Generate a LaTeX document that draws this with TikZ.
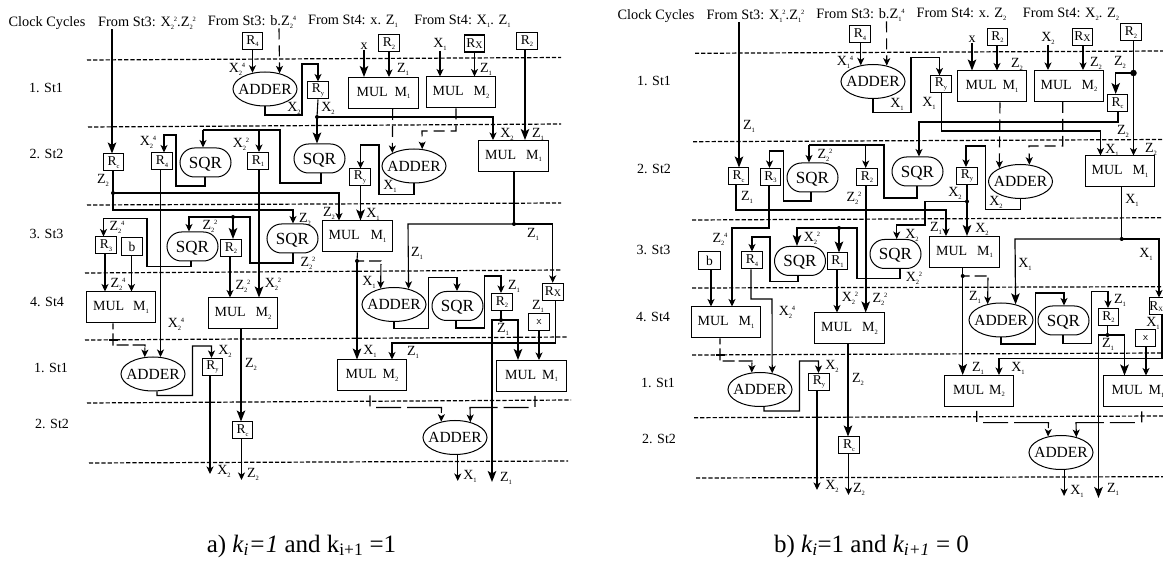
\documentclass[tikz,border=0pt]{standalone}
\usepackage{fontspec}
\setmainfont{Liberation Serif}
\usetikzlibrary{arrows.meta,shapes.geometric,shapes.misc}
\newcommand\Tiny[1]{{\fontsize{6.5}{6.5}\selectfont #1}}
\newcommand\Sb[2]{#1\raisebox{-2.5pt}{\Tiny{#2}}}
\newcommand\SbSp[3]{#1\rlap{\raisebox{-2.5pt}{\Tiny{#2}}}\kern3pt\raisebox{5pt}{\Tiny{#3}}}
\newcommand\Pt[2]{(#1 -| #2,0)}
\newcount\lblcnt
\newcommand\Lbl[3]{\global\advance\lblcnt by 1 \node[lbl] (lab\the\lblcnt) at (#1,{#2+4.8}) {#3};}
\newcommand\Mul[3]{MUL\hspace{#1pt}\Sb{M}{#2}}
\newcommand\Fit[1]{\makebox[0pt]{\raisebox{-0.33em}[0pt][0pt]{#1}}}
\newcommand\Adr{\Fit{ADDER}}
\newcommand\Sq{\Fit{SQR}}
\tikzset{
 lbl/.style={inner sep=0pt,anchor=base,font=\fontsize{14}{14}\selectfont},
 toplbl/.style={inner sep=0pt,anchor=base,font=\fontsize{14.3}{14.3}\selectfont},
 reg/.style={draw,line width=1pt,inner sep=0pt,minimum width=20.5pt,minimum height=17pt,font=\fontsize{13.5}{13.5}\selectfont},
 regx/.style={reg,line width=1.4pt},
 bbox/.style={reg,minimum width=21.5pt,minimum height=18.5pt},
 mulbox/.style={draw,line width=1pt,inner sep=0pt,minimum width=69.5pt,minimum height=31pt,font=\fontsize{14}{14}\selectfont},
 addr/.style={draw,ellipse,line width=1pt,inner sep=0pt,minimum width=64pt,minimum height=34pt,font=\fontsize{15.5}{15.5}\selectfont},
 sqr/.style={draw,rounded rectangle,line width=1pt,inner sep=0pt,minimum width=51pt,minimum height=29pt,font=\fontsize{17}{17}\selectfont},
 jdot/.style={circle,fill,inner sep=0pt,minimum size=4pt},
 ldot/.style={circle,fill,inner sep=0pt,minimum size=6.5pt},
 plain/.style={line width=1.1pt},
 wire/.style={line width=1.1pt,-{Stealth[length=7.5pt,width=7pt,inset=2pt]}},
 bigw/.style={line width=1.6pt,-{Stealth[length=11pt,width=8.5pt,inset=2.5pt]}},
 dline/.style={line width=1.2pt,dash pattern=on 4.2pt off 2pt},
 dwire/.style={line width=1.1pt,dash pattern=on 11pt off 6pt,-{Stealth[length=7.5pt,width=7pt,inset=2pt]}},
 lwire/.style={line width=1.1pt,dash pattern=on 0pt off 4pt on 11pt off 7pt on 25pt off 6pt on 40pt off 0pt,-{Stealth[length=7.5pt,width=7pt,inset=2pt]}},
}
\begin{document}
\begin{tikzpicture}[x=1pt,y=-1pt]
\useasboundingbox (0,0) rectangle (1163,561);
% ============ dashed clock lines
\draw[dline] (87,60) -- (561,57.5);
\draw[dline] (88,127) -- (561,124);
\draw[dline] (87,205) -- (561,203);
\draw[dline] (85,273) -- (562,270);
\draw[dline] (85,340) -- (568,337);
\draw[dline] (87,403) -- (571,400);
\draw[dline] (89,463) -- (568,461);
\draw[dline] (695,53.3) -- (1163,51);
\draw[dline] (693,141.7) -- (1163,139.5);
\draw[dline] (692,220) -- (1163,217.7);
\draw[dline] (692,288) -- (1163,286.7);
\draw[dline] (692,355) -- (1163,353);
\draw[dline] (694,417.7) -- (1163,416);
\draw[dline] (696,478) -- (1163,476.7);
% ============ PANEL A
\node[toplbl] (acc) at (47,26.8) {Clock Cycles};
\node[toplbl] (afr1) at (147,26.8) {From St3: \SbSp{X}{2}{2}.\SbSp{Z}{2}{2}};
\node[toplbl] (afr2) at (252,25.8) {From St3: b.\SbSp{Z}{2}{4}};
\node[toplbl] (afr3) at (353,24.8) {From St4: x. \Sb{Z}{1}};
\node[toplbl] (afr4) at (462.5,24.8) {From St4: \Sb{X}{1}. \Sb{Z}{1}};
\Lbl{46}{88}{1. St1} \Lbl{46.5}{154}{2. St2} \Lbl{46.5}{234}{3. St3} \Lbl{47}{302}{4. St4}
\Lbl{51}{368}{1. St1} \Lbl{52}{424}{2. St2}
\node[reg] (ar4t) at (252.5,41) {\Sb{R}{4}};
\node[addr] (aad1) at (265,89) {\Adr};
\node[reg] (aryt) at (318,90.5) {\Sb{R}{y}};
\node[sqr] (asq2) at (319.5,158.5) {\Sq};
\node[reg] (ar1) at (258,161) {\Sb{R}{1}};
\node[sqr] (asq1) at (205.5,162.5) {\Sq};
\node[reg] (ar4m) at (162,161.5) {\Sb{R}{4}};
\node[reg] (arc) at (113.5,162.5) {\Sb{R}{c}};
\node[sqr] (asq3) at (292.5,238.5) {\Sq};
\node[sqr] (asq4) at (192.5,246.5) {\Sq};
\node[reg] (ar3) at (106,245.5) {\Sb{R}{3}};
\node[bbox] (ab) at (132,246.5) {b};
\node[reg] (ar2m) at (231,248) {\Sb{R}{2}};
\node[mulbox] (am1l) at (121,307.5) {\Mul{9}{1}{}};
\node[addr] (aad3) at (153,374) {\Adr};
\node[reg] (aryb) at (212.5,367) {\Sb{R}{y}};
\node[mulbox] (am2l) at (243,313.5) {\Mul{10}{2}{}};
\node[reg] (arcb) at (242.5,430.5) {\Sb{R}{c}};
\node[mulbox] (amt1) at (383.5,93) {\Mul{7}{1}{}};
\node[reg] (ar2a) at (389,43.5) {\Sb{R}{2}};
\node[mulbox] (amt2) at (461,92.5) {\Mul{10}{2}{}};
\node[regx] (arxt) at (474.5,43.5) {R\raisebox{-1pt}{\fontsize{10}{10}\selectfont X}};
\node[reg] (ar2b) at (527,41) {\Sb{R}{2}};
\node[mulbox] (amr) at (513.5,156) {\Mul{10}{1}{}};
\node[addr] (aad2) at (414,166) {\Adr};
\node[reg] (arym) at (360,177.5) {\Sb{R}{y}};
\node[mulbox] (amm) at (357.5,236.5) {\Mul{11}{1}{}};
\node[addr] (aad4) at (394,304.5) {\Adr};
\node[sqr] (asq5) at (457.5,306) {\Sq};
\node[reg] (ar2c) at (502,302) {\Sb{R}{2}};
\node[reg] (ax) at (539,322.5) {\sffamily\fontsize{11}{11}\selectfont x};
\node[regx] (arxb) at (553,292) {R\raisebox{-1pt}{\fontsize{10}{10}\selectfont X}};
\node[mulbox] (am2b) at (372,375.5) {\Mul{6}{2}{}};
\node[mulbox] (am1b) at (531.5,376) {\Mul{6}{1}{}};
\node[addr] (aad5) at (455,437.5) {\Adr};
\node[jdot] (ajz) at (113,193) {};
\node[jdot] (ajx) at (317,117) {};
\node[jdot] (ajs) at (233,217) {};
\node[jdot] (ajm) at (357,261) {};
\node[jdot] (ajr) at (514,224) {};
\node[jdot] (ajc) at (501,320) {};
\node[lbl] (axl) at (364,50) {x};
\node[lbl] (ax1l) at (440,48) {\Sb{X}{1}};
% connectors A
\draw[bigw] \Pt{afr1.south}{112} -- \Pt{arc.north}{112};
\draw[dwire] \Pt{afr2.south}{279} -- (aad1.47.5);
\draw[wire] (ar4t.south) -- (ar4t.south |- aad1.127);
\draw[wire] (aad1.south) -- (265,115) -- (302,115) -- (302,64) -- (318,64) -- (aryt.north);
\draw[plain] (aryt.south) -- (ajx.center);
\draw[bigw] (ajx.center) -- \Pt{asq2.north}{317};
\draw[wire] (ajx.center) -- (493,117) -- \Pt{amr.north}{493};
\draw[plain] \Pt{asq2.south}{321} -- (321,183) -- (280,183) -- (280,130) -- (203,130);
\draw[wire] (259,130) -- \Pt{ar1.north}{259};
\draw[wire] (203,130) -- \Pt{asq1.north}{203};
\draw[bigw] \Pt{ar1.south}{259} -- \Pt{am2l.north}{259};
\draw[wire] \Pt{asq1.south}{205} -- (205,186) -- (176,186) -- (176,135) -- (164,135) -- \Pt{ar4m.north}{164};
\draw[wire] \Pt{ar4m.south}{160.5} -- (160.5,357);
\draw[plain] \Pt{arc.south}{113} -- (ajz.center);
\draw[wire] (ajz.center) -- (113,210) -- (293,210) -- \Pt{asq3.north}{293};
\draw[wire] (ajz.center) -- (339,193) -- \Pt{amm.north}{339};
\draw[plain] \Pt{asq3.south}{293} -- (293,263) -- (250,263) -- (250,217) -- (ajs.center);
\draw[wire] (ajs.center) -- (189,217) -- \Pt{asq4.north}{189};
\draw[bigw] (ajs.center) -- \Pt{ar2m.north}{233};
\draw[wire] \Pt{asq4.south}{191} -- (191,266.5) -- (147,266.5) -- (147,218.5) -- (103.5,218.5) -- \Pt{ar3.north}{103.5};
\draw[wire] \Pt{ar3.south}{105} -- \Pt{am1l.north}{105};
\draw[wire] \Pt{ab.south}{131.5} -- \Pt{am1l.north}{131.5};
\draw[wire] \Pt{ar2m.south}{230} -- \Pt{am2l.north}{230};
\draw[dwire,dash pattern=on 6pt off 4pt on 12pt off 3pt on 12pt off 4pt on 14pt off 1pt on 14pt] \Pt{am1l.south}{113} -- (113,345) -- (145,345) -- (aad3.116);
\draw[line width=1.1pt] (108.5,340) -- (117.5,340);
\draw[wire] (aad3.-77) -- (157,395.5) -- (192.5,395.5) -- (192.5,346) -- (211.5,346) -- \Pt{aryb.north}{211.5};
\draw[wire] \Pt{aryb.south}{210} -- (210,474);
\draw[bigw] \Pt{am2l.south}{241} -- \Pt{arcb.north}{241};
\draw[wire] \Pt{arcb.south}{241.5} -- (241.5,480);
\draw[bigw] \Pt{axl.south}{364} -- \Pt{amt1.north}{364};
\draw[wire] \Pt{ar2a.south}{389} -- \Pt{amt1.north}{389};
\draw[wire] \Pt{ax1l.south}{440} -- \Pt{amt2.north}{440};
\draw[wire] \Pt{arxt.south}{474.5} -- \Pt{amt2.north}{474.5};
\draw[bigw,line width=1.3pt] \Pt{ar2b.south}{525} -- \Pt{amr.north}{525};
\draw[dwire] \Pt{amt1.south}{392.7} -- (aad2.149);
\draw[dwire] \Pt{amt2.south}{456} -- (456,131) -- (422,131) -- (aad2.64);
\draw[wire] (aad2.south) -- (414,194.5) -- (379,194.5) -- (379,145) -- (360.5,145) -- \Pt{arym.north}{360.5};
\draw[bigw,line width=1.2pt] \Pt{arym.south}{360.5} -- \Pt{amm.north}{360.5};
\draw[plain] (amm.south) -- (ajm.center);
\draw[dwire,dash pattern=on 7pt off 5pt on 12pt off 3pt on 30pt] (ajm.center) -- (381,261) -- (aad4.130);
\draw[bigw,line width=1.2pt] (ajm.center) -- \Pt{am2b.north}{357};
\draw[line width=1.5pt] \Pt{amr.south}{514} -- (ajr.center);
\draw[wire] (ajr.center) -- (408,224) -- (aad4.47.5);
\draw[wire] (ajr.center) -- (552.7,224) -- \Pt{arxb.north}{552.7};
\draw[wire] (aad4.south) -- (394,328.5) -- (428.5,328.5) -- (428.5,277.5) -- (457,277.5) -- \Pt{asq5.north}{457};
\draw[wire] \Pt{asq5.south}{456} -- (456,328) -- (484.5,328) -- (484.5,276) -- (501,276) -- \Pt{ar2c.north}{501};
\draw[plain] \Pt{ar2c.south}{501} -- (ajc.center);
\draw[bigw] (ajc.center) -- (492,320) -- (492,482);
\draw[bigw] (ajc.center) -- (518,320) -- \Pt{am1b.north}{518};
\draw[wire] \Pt{ax.south}{539} -- \Pt{am1b.north}{539};
\draw[wire] \Pt{arxb.south}{555.5} -- (555.5,343) -- (392,343) -- \Pt{am2b.north}{392};
\draw[lwire] \Pt{am2b.south}{370} -- (370,407.5) -- (441.5,407.5) -- (aad5.131);
\draw[lwire] \Pt{am1b.south}{535} -- (535,407.5) -- (470,407.5) -- (aad5.45);
\draw[wire] (aad5.-81) -- (aad5.-81 |- 0,481);
% labels A
\Lbl{237}{68}{\SbSp{X}{2}{4}} \Lbl{294}{107}{\Sb{X}{2}} \Lbl{328}{107}{\Sb{X}{2}} \Lbl{507}{133}{\Sb{X}{2}}
\Lbl{241}{143}{\SbSp{X}{2}{2}} \Lbl{148}{141}{\SbSp{X}{2}{4}} \Lbl{103}{179}{\Sb{Z}{2}}
\Lbl{329}{212}{\Sb{Z}{2}} \Lbl{305}{218}{\Sb{Z}{2}} \Lbl{210}{225}{\SbSp{Z}{2}{2}} \Lbl{308}{262}{\SbSp{Z}{2}{2}}
\Lbl{117}{226}{\SbSp{Z}{2}{4}} \Lbl{118}{283}{\SbSp{Z}{2}{4}} \Lbl{243}{285}{\SbSp{Z}{2}{2}} \Lbl{273}{283}{\SbSp{X}{2}{2}}
\Lbl{176}{323}{\SbSp{X}{2}{4}} \Lbl{225}{350}{\Sb{X}{2}} \Lbl{224}{470}{\Sb{X}{2}} \Lbl{251}{363}{\Sb{Z}{2}} \Lbl{253}{473}{\Sb{Z}{2}}
\Lbl{403}{68}{\Sb{Z}{1}} \Lbl{486}{68}{\Sb{Z}{1}} \Lbl{538}{133}{\Sb{Z}{1}} \Lbl{390}{185}{\Sb{X}{1}} \Lbl{373}{213}{\Sb{X}{1}}
\Lbl{369}{281}{\Sb{X}{1}} \Lbl{370}{350}{\Sb{X}{1}} \Lbl{533}{233}{\Sb{Z}{1}} \Lbl{417}{252}{\Sb{Z}{1}} \Lbl{514}{285}{\Sb{Z}{1}}
\Lbl{503}{328}{\Sb{Z}{1}} \Lbl{506}{477}{\Sb{Z}{1}} \Lbl{538}{305}{\Sb{Z}{1}} \Lbl{413}{351}{\Sb{Z}{1}} \Lbl{470}{475}{\Sb{X}{1}}
\node[inner sep=0pt,font=\fontsize{25}{25}\selectfont] (acap) at (301.5,546) {a) \textit{k\textsubscript{i}=1} and k\textsubscript{i+1} =1};
% ============ PANEL B
\node[toplbl] (bcc) at (656,19.8) {Clock Cycles};
\node[toplbl] (bfr1) at (755.5,19.8) {From St3: \SbSp{X}{1}{2}.\SbSp{Z}{1}{2}};
\node[toplbl] (bfr2) at (860.5,18.8) {From St3: b.\SbSp{Z}{1}{4}};
\node[toplbl] (bfr3) at (961.5,17.8) {From St4: x. \Sb{Z}{2}};
\node[toplbl] (bfr4) at (1071,17.8) {From St4: \Sb{X}{2}. \Sb{Z}{2}};
\Lbl{654}{81}{1. St1} \Lbl{654}{169}{2. St2} \Lbl{653.5}{250}{3. St3} \Lbl{653}{317}{4. St4}
\Lbl{658}{383}{1. St1} \Lbl{659}{439}{2. St2}
\node[reg] (brc) at (738.5,176.5) {\Sb{R}{c}};
\node[reg] (br3) at (770.5,177) {\Sb{R}{3}};
\node[sqr] (bsq1) at (812.5,177.5) {\Sq};
\node[reg] (br2m) at (867,177) {\Sb{R}{2}};
\node[sqr] (bsq2) at (917.5,171.5) {\Sq};
\node[reg] (brcr) at (1117.5,103) {\Sb{R}{c}};
\node[reg] (br2r) at (1131,32.5) {\Sb{R}{2}};
\node[mulbox] (bmr) at (1120,171.5) {\Mul{10}{1}{}};
\node[reg] (bryt) at (941,84.5) {\Sb{R}{y}};
\node[addr] (bad1) at (873,81.5) {\Adr};
\node[reg] (br4t) at (860,34.5) {\Sb{R}{4}};
\node[mulbox] (bmt1) at (992,86.5) {\Mul{6}{1}{}};
\node[reg] (br2a) at (997.5,37) {\Sb{R}{2}};
\node[mulbox] (bmt2) at (1069,86) {\Mul{10}{2}{}};
\node[regx] (brxt) at (1082.5,37) {R\raisebox{-1pt}{\fontsize{10}{10}\selectfont X}};
\node[addr] (bad2) at (1020.5,181.5) {\Adr};
\node[reg] (brym) at (967,176) {\Sb{R}{y}};
\node[mulbox] (bmm) at (964.5,252) {\Mul{10}{1}{}};
\node[sqr] (bsq3) at (895.5,254) {\Sq};
\node[sqr] (bsq4) at (800,261) {\Sq};
\node[reg] (br1) at (837.5,261.5) {\Sb{R}{1}};
\node[reg] (br4m) at (752,260.5) {\Sb{R}{4}};
\node[bbox] (bb) at (709.5,260.5) {b};
\node[mulbox] (bm1l) at (726,322.5) {\Mul{10}{1}{}};
\node[addr] (bad3) at (760,389.5) {\Adr};
\node[reg] (bryb) at (819,382) {\Sb{R}{y}};
\node[mulbox] (bm2l) at (849.5,328.5) {\Mul{10}{2}{}};
\node[reg] (brcb) at (849,445.5) {\Sb{R}{c}};
\node[reg] (brxb) at (1159.5,306.5) {};
\node[inner sep=0pt,font=\fontsize{13.5}{13.5}\selectfont] (brxbt) at (1156.3,306.5) {R\raisebox{-1pt}{\Tiny{X}}};
\node[addr] (bad4) at (1001,320) {\Adr};
\node[sqr] (bsq5) at (1063.5,320.5) {\Sq};
\node[reg] (br2c) at (1108.5,317) {\Sb{R}{2}};
\node[reg] (bx) at (1145.5,338) {\sffamily\fontsize{11}{11}\selectfont x};
\node[mulbox] (bm2b) at (979,391) {\Mul{5}{2}{}};
\node[mulbox] (bm1b) at (1138,391.5) {\Mul{6}{1}{}\hspace{6pt}};
\node[addr] (bad5) at (1061,452.5) {\Adr};
\node[ldot] (bjr) at (1133.5,73) {};
\node[jdot] (bjy) at (967,201.5) {};
\node[jdot] (bjs) at (839,228) {};
\node[jdot] (bjm) at (962.7,276) {};
\node[jdot] (bjb) at (1121.7,239) {};
\node[jdot] (bjc) at (1107.5,335) {};
\node[lbl] (bxl) at (972,43) {x};
\node[lbl] (bx2l) at (1048,42) {\Sb{X}{2}};
% connectors B
\draw[bigw] \Pt{bfr1.south}{739} -- \Pt{brc.north}{739};
\draw[wire] \Pt{brc.south}{736} -- (736,210) -- (946,210) -- \Pt{bmm.north}{946};
\draw[wire] \Pt{br3.south}{769} -- (769,228) -- (732,228) -- \Pt{bm1l.north}{732};
\draw[wire] \Pt{bsq1.south}{811} -- (811,201) -- (783.5,201) -- (783.5,151) -- (769.5,151) -- \Pt{br3.north}{769.5};
\draw[plain] \Pt{bsq2.south}{917} -- (917,198) -- (884,198) -- (884,145) -- (809,145);
\draw[wire] (809,145) -- \Pt{bsq1.north}{809};
\draw[wire] (865.7,145) -- \Pt{br2m.north}{865.7};
\draw[bigw] \Pt{br2m.south}{865.7} -- \Pt{bm2l.north}{865.7};
\draw[wire] \Pt{brcr.south}{1118} -- (1118,122) -- (919,122) -- \Pt{bsq2.north}{919};
\draw[bigw,line width=1.3pt] (bjr.center) -- (1115.7,73) -- \Pt{brcr.north}{1115.7};
\draw[plain] \Pt{br2r.south}{1133.5} -- (bjr.center);
\draw[wire,line width=1.3pt] (bjr.center) -- \Pt{bmr.north}{1133.5};
\draw[wire] \Pt{bryt.south}{941.5} -- (941.5,131) -- (1100.5,131) -- \Pt{bmr.north}{1100.5};
\draw[wire] (bad1.south) -- (873,112.5) -- (911,112.5) -- (911,57.5) -- (939.5,57.5) -- \Pt{bryt.north}{939.5};
\draw[wire] (br4t.south -| bad1.127) -- (bad1.127);
\draw[dwire] \Pt{bfr2.south}{886.5} -- (bad1.49);
\draw[bigw] \Pt{bxl.south}{972} -- \Pt{bmt1.north}{972};
\draw[wire] \Pt{br2a.south}{997} -- \Pt{bmt1.north}{997};
\draw[wire] \Pt{bx2l.south}{1048} -- \Pt{bmt2.north}{1048};
\draw[wire] \Pt{brxt.south}{1083} -- \Pt{bmt2.north}{1083};
\draw[dwire] \Pt{bmt1.south}{1000} -- (bad2.148);
\draw[dwire] \Pt{bmt2.south}{1062.7} -- (1062.7,146) -- (1029,146) -- (bad2.62);
\draw[wire] (bad2.south) -- (1020.5,209.5) -- (985.5,209.5) -- (985.5,146) -- (966,146) -- \Pt{brym.north}{966};
\draw[plain] \Pt{brym.south}{967} -- (bjy.center);
\draw[bigw] (bjy.center) -- \Pt{bmm.north}{967};
\draw[wire] (bjy.center) -- (925,201.5) -- (925,225) -- (896.7,225) -- \Pt{bsq3.north}{896.7};
\draw[plain] \Pt{bsq3.south}{900} -- (900,278.5) -- (857,278.5) -- (857,228) -- (bjs.center);
\draw[bigw,line width=1.2pt] (bjs.center) -- (797,228) -- \Pt{bsq4.north}{797};
\draw[bigw,line width=1.2pt] (bjs.center) -- \Pt{br1.north}{839};
\draw[wire] \Pt{br1.south}{837} -- \Pt{bm2l.north}{837};
\draw[wire] \Pt{bsq4.south}{798} -- (798,281.7) -- (770,281.7) -- (770,237) -- (752,237) -- (br4m.north);
\draw[wire] \Pt{br4m.south}{751} -- (751,299) -- (772,299) -- (bad3.53);
\draw[wire] \Pt{bb.south}{711} -- \Pt{bm1l.north}{711};
\draw[dwire,dash pattern=on 6pt off 4pt on 12pt off 3pt on 12pt off 4pt on 14pt off 1pt on 14pt] \Pt{bm1l.south}{720} -- (720,361) -- (752,361) -- (bad3.116);
\draw[line width=1.1pt] (715.5,355) -- (724.5,355);
\draw[wire] (bad3.-77) -- (764,411) -- (799.5,411) -- (799.5,361) -- (818.5,361) -- \Pt{bryb.north}{818.5};
\draw[wire] \Pt{bryb.south}{817} -- (817,490);
\draw[bigw] \Pt{bm2l.south}{848} -- \Pt{brcb.north}{848};
\draw[wire] \Pt{brcb.south}{848.5} -- (848.5,495);
\draw[line width=1.5pt] \Pt{bmr.south}{1121.7} -- (bjb.center);
\draw[bigw,line width=1.2pt] (bjb.center) -- (1015,239) -- (bad4.47.5);
\draw[wire] (bjb.center) -- (1159,239) -- \Pt{brxb.north}{1159};
\draw[plain] \Pt{bmm.south}{962.7} -- (bjm.center);
\draw[dwire,dash pattern=on 7pt off 5pt on 12pt off 3pt on 30pt] (bjm.center) -- (988,276) -- (bad4.130);
\draw[bigw,line width=1.2pt] (bjm.center) -- \Pt{bm2b.north}{962.7};
\draw[wire] \Pt{brxb.south}{1162} -- (1162,358.5) -- (999,358.5) -- \Pt{bm2b.north}{999};
\draw[wire] (bad4.south) -- (1001,344) -- (1035.5,344) -- (1035.5,293) -- (1064,293) -- \Pt{bsq5.north}{1064};
\draw[wire] \Pt{bsq5.south}{1063} -- (1063,343.5) -- (1091.5,343.5) -- (1091.5,291.5) -- (1108,291.5) -- \Pt{br2c.north}{1108};
\draw[plain] \Pt{br2c.south}{1107.5} -- (bjc.center);
\draw[bigw] (bjc.center) -- (1098.5,335) -- (1098.5,498);
\draw[bigw] (bjc.center) -- (1124.5,335) -- \Pt{bm1b.north}{1124.5};
\draw[wire] \Pt{bx.south}{1146} -- \Pt{bm1b.north}{1146};
\draw[lwire] \Pt{bm2b.south}{976.7} -- (976.7,422.7) -- (1048.5,422.7) -- (bad5.129);
\draw[lwire] \Pt{bm1b.south}{1141.7} -- (1141.7,422.7) -- (1076,422.7) -- (bad5.45);
\draw[wire] (bad5.-80) -- (bad5.-80 |- 0,496);
% labels B
\Lbl{749}{125}{\Sb{Z}{1}} \Lbl{747}{196}{\Sb{Z}{1}} \Lbl{720}{238}{\SbSp{Z}{2}{4}} \Lbl{825}{154}{\SbSp{Z}{2}{2}} \Lbl{854}{197}{\SbSp{Z}{2}{2}}
\Lbl{1123}{130}{\Sb{Z}{2}} \Lbl{1120}{61}{\Sb{Z}{2}} \Lbl{1151}{148}{\Sb{Z}{2}} \Lbl{1112}{149}{\Sb{X}{1}} \Lbl{929}{102}{\Sb{X}{1}}
\Lbl{897}{103}{\Sb{X}{1}} \Lbl{845}{61}{\SbSp{X}{1}{4}} \Lbl{1017}{63}{\Sb{Z}{2}} \Lbl{1096}{62}{\Sb{Z}{2}} \Lbl{996}{201}{\Sb{X}{2}}
\Lbl{955}{192}{\Sb{X}{2}} \Lbl{982}{228}{\Sb{X}{2}} \Lbl{912}{234}{\Sb{X}{2}} \Lbl{936}{227}{\Sb{Z}{1}}
\Lbl{812}{237}{\SbSp{X}{2}{2}} \Lbl{914}{277}{\SbSp{X}{2}{2}} \Lbl{850}{297}{\SbSp{X}{2}{2}} \Lbl{880}{298}{\SbSp{Z}{2}{2}} \Lbl{787}{311}{\SbSp{X}{2}{4}}
\Lbl{832}{365}{\Sb{X}{2}} \Lbl{832}{485}{\Sb{X}{2}} \Lbl{858}{378}{\Sb{Z}{2}} \Lbl{859}{488}{\Sb{Z}{2}}
\Lbl{1132}{199}{\Sb{X}{1}} \Lbl{1025}{263}{\Sb{X}{1}} \Lbl{1146}{253}{\Sb{X}{1}} \Lbl{1018}{367}{\Sb{X}{1}} \Lbl{975}{296}{\Sb{Z}{1}}
\Lbl{1120}{299}{\Sb{Z}{1}} \Lbl{1108}{343}{\Sb{Z}{1}} \Lbl{1113}{488}{\Sb{Z}{1}} \Lbl{1153}{322}{\Sb{X}{1}} \Lbl{978}{367}{\Sb{Z}{1}} \Lbl{1077}{490}{\Sb{X}{1}}
\node[inner sep=0pt,font=\fontsize{25}{25}\selectfont] (bcap) at (871.5,546) {b) \textit{k\textsubscript{i}}=1 and \textit{k\textsubscript{i+1}} = 0};
\end{tikzpicture}
\end{document}
